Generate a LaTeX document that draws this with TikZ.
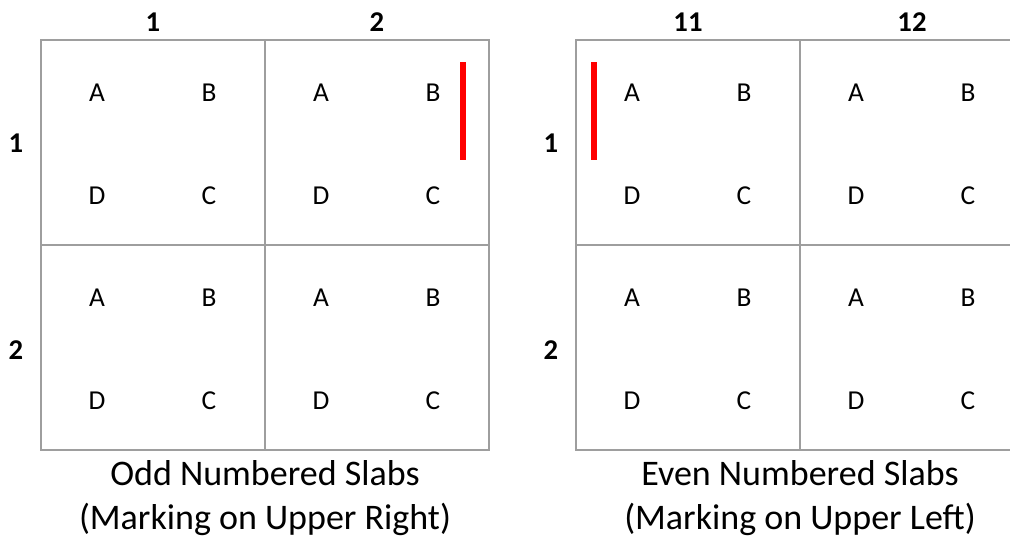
\documentclass[tikz,border=0pt]{standalone}
\usepackage{fontspec}
\setmainfont{Carlito}
\tikzset{
  gridline/.style={draw=black!38, line width=1.1pt},
  letter/.style={font=\fontsize{20.5}{23}\selectfont, inner sep=0pt},
  headlbl/.style={font=\bfseries\fontsize{21.5}{23}\selectfont, inner sep=0pt},
  slabcaption/.style={font=\fontsize{27}{33}\selectfont, align=center, inner sep=0pt},
  marker/.style={draw=red, line width=5.2pt}
}

\begin{document}
\begin{tikzpicture}[x=0.75pt, y=-0.75pt]
  \useasboundingbox (0,0) rectangle (1010,540);
  \clip (0,0) rectangle (1010,540);
  \foreach \gx/\c/\ca/\cb/\mx/\txt in {%
      41/odd/1/2/463/{Odd Numbered Slabs\\(Marking on Upper Right)},%
      576/even/11/12/594/{Even Numbered Slabs\\(Marking on Upper Left)}} {
    % outline and cell lines
    \draw[gridline] (\gx,40) rectangle ++(448,410);
    \draw[gridline] (\gx+224,40) -- ++(0,410);
    \draw[gridline] (\gx,245) -- ++(448,0);
    % column and row numbers
    \node[headlbl] (\c-col1) at (\gx+112,22) {\ca};
    \node[headlbl] (\c-col2) at (\gx+336,22) {\cb};
    \node[headlbl] (\c-row1) at (\gx-25,143) {1};
    \node[headlbl] (\c-row2) at (\gx-25,350) {2};
    % corner letters of each slab
    \foreach \r in {0,1} {
      \foreach \k in {0,1} {
        \node[letter] (\c-\r\k-A) at (\gx+224*\k+56, 40+205*\r+53) {A};
        \node[letter] (\c-\r\k-B) at (\gx+224*\k+168,40+205*\r+53) {B};
        \node[letter] (\c-\r\k-D) at (\gx+224*\k+56, 40+205*\r+156) {D};
        \node[letter] (\c-\r\k-C) at (\gx+224*\k+168,40+205*\r+156) {C};
      }
    }
    % red marking
    \draw[marker] (\mx,62) -- (\mx,160);
    \node[slabcaption] (\c-caption) at (\gx+224,498) {\txt};
  }
\end{tikzpicture}
\end{document}
